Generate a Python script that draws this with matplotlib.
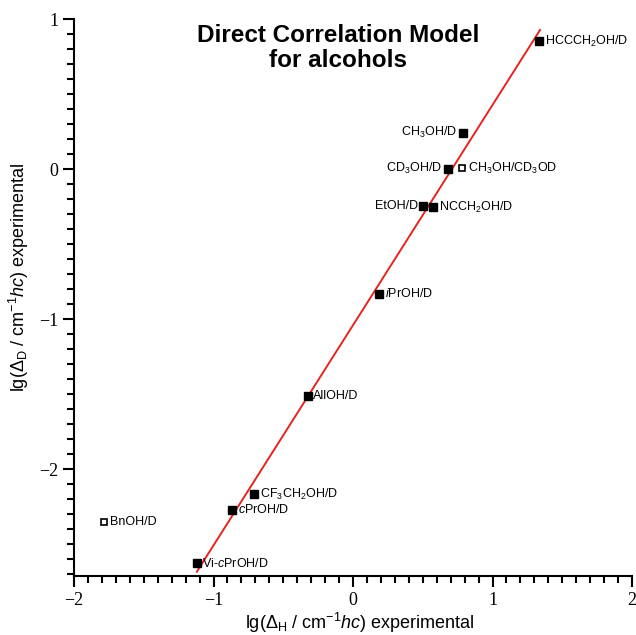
import numpy as np
import matplotlib
matplotlib.use('Agg')
import matplotlib.pyplot as plt
from matplotlib.ticker import MultipleLocator

plt.rcParams['font.family'] = ['Liberation Sans', 'DejaVu Sans']
plt.rcParams['mathtext.fontset'] = 'custom'
plt.rcParams['mathtext.rm'] = 'Liberation Sans'
plt.rcParams['mathtext.it'] = 'Liberation Sans:italic'
plt.rcParams['mathtext.bf'] = 'Liberation Sans:bold'

# data
names = ['HCCCH$_2$OH/D', 'CH$_3$OH/D', 'CD$_3$OH/D', 'CH$_3$OH/CD$_3$OD',
         'EtOH/D', 'NCCH$_2$OH/D', '$\\mathit{i}$PrOH/D', 'AllOH/D',
         'CF$_3$CH$_2$OH/D', '$\\mathit{c}$PrOH/D', 'BnOH/D', 'Vi-$\\mathit{c}$PrOH/D']
lg_H = [1.333, 0.786, 0.679, 0.784, 0.504, 0.576, 0.189, -0.325, -0.710, -0.865, -1.785, -1.120]
lg_D = [0.853, 0.242, 0.003, 0.005, -0.247, -0.255, -0.833, -1.513, -2.169, -2.273, -2.351, -2.629]
open_marker = [False, False, False, True, False, False, False, False, False, False, True, False]
label_side = ['r', 'l', 'l', 'r', 'l', 'r', 'r', 'r', 'r', 'r', 'r', 'r']

# correlation line
fit_slope = 1.468
fit_icpt = -1.041
fit_x = [-1.12, 1.341]

fig = plt.figure(figsize=(6.36, 6.35), dpi=100)
ax = fig.add_axes([0.1164, 0.093, 0.8773, 0.877])

fx = np.array(fit_x)
ax.plot(fx, fit_slope * fx + fit_icpt, color='#e8231f', lw=1.4, zorder=2)

for x, y, n, o, s in zip(lg_H, lg_D, names, open_marker, label_side):
    if o:
        ax.plot(x, y, 's', ms=4.6, mfc='white', mec='black', mew=1.2, zorder=3)
    else:
        ax.plot(x, y, 's', ms=5.4, color='black', zorder=3)
    if s == 'r':
        ax.annotate(n, (x, y), xytext=(4, 0), textcoords='offset points',
                    ha='left', va='center', fontsize=9)
    else:
        ax.annotate(n, (x, y), xytext=(-4, 0), textcoords='offset points',
                    ha='right', va='center', fontsize=9)

ax.set_xlim(-2, 2)
ax.set_ylim(-2.713, 1)
ax.xaxis.set_major_locator(MultipleLocator(1))
ax.xaxis.set_minor_locator(MultipleLocator(0.1))
ax.yaxis.set_major_locator(MultipleLocator(1))
ax.yaxis.set_minor_locator(MultipleLocator(0.1))
ax.spines['top'].set_visible(False)
ax.spines['right'].set_visible(False)
ax.spines['left'].set_linewidth(1.5)
ax.spines['bottom'].set_linewidth(1.5)
ax.tick_params(which='major', direction='out', length=8, width=1.5,
               labelsize=13, labelfontfamily='Liberation Serif')
ax.tick_params(which='minor', direction='out', length=5, width=1.5)

ax.set_xlabel('lg($\\Delta_\\mathrm{H}$ / cm$^{-1}$$\\mathit{hc}$) experimental', fontsize=13)
ax.set_ylabel('lg($\\Delta_\\mathrm{D}$ / cm$^{-1}$$\\mathit{hc}$) experimental', fontsize=13)
ax.xaxis.set_label_coords(0.513, -0.062)
ax.yaxis.set_label_coords(-0.078, 0.537)

fig.text(338 / 636, 1 - 48 / 635, 'Direct Correlation Model\nfor alcohols', ha='center', va='center',
         fontsize=17.5, fontweight='bold', linespacing=1.15)

fig.savefig('out.png', dpi=100)
